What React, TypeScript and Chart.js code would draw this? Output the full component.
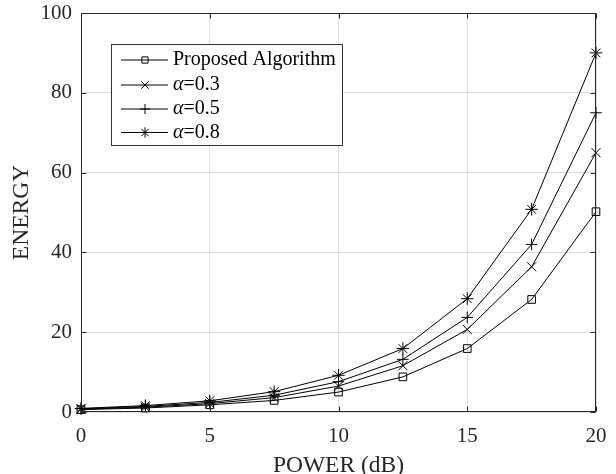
import { useEffect, useRef } from "react";
import { Chart, registerables } from "chart.js";

Chart.register(...registerables);

// ---- data ----
const powerDb = [0, 2.5, 5, 7.5, 10, 12.5, 15, 17.5, 20];
const proposed = [0.6, 1.0, 1.8, 2.9, 5.0, 8.8, 15.9, 28.2, 50.2];
const alpha03 = [0.7, 1.2, 2.1, 3.6, 6.5, 11.6, 20.7, 36.4, 65.0];
const alpha05 = [0.8, 1.4, 2.4, 4.2, 7.6, 13.2, 23.7, 42.0, 75.0];
const alpha08 = [0.9, 1.6, 2.8, 5.1, 9.2, 15.9, 28.4, 50.8, 90.0];
const seriesLabels = ["Proposed Algorithm", "α=0.3", "α=0.5", "α=0.8"];
const xTicks = [0, 5, 10, 15, 20];
const yTicks = [0, 20, 40, 60, 80, 100];

const FONT = "'Liberation Serif', 'Times New Roman', serif";
const AXIS = "#262626";

const markerStyles: any[] = ["rect", "crossRot", "cross", "star"];
const markerRadii = [5.4, 6.4, 5.8, 6.2];
const legendRadii = [4.4, 5.2, 5.0, 5.2];

function drawMarker(ctx: CanvasRenderingContext2D, style: string, r: number, x: number, y: number) {
  ctx.save();
  ctx.strokeStyle = "#000000";
  ctx.lineWidth = 1;
  ctx.beginPath();
  const d = r * Math.SQRT1_2;
  if (style === "rect") {
    ctx.rect(x - d, y - d, 2 * d, 2 * d);
  } else if (style === "crossRot") {
    ctx.moveTo(x - d, y - d);
    ctx.lineTo(x + d, y + d);
    ctx.moveTo(x - d, y + d);
    ctx.lineTo(x + d, y - d);
  } else if (style === "cross") {
    ctx.moveTo(x - r, y);
    ctx.lineTo(x + r, y);
    ctx.moveTo(x, y - r);
    ctx.lineTo(x, y + r);
  } else {
    ctx.moveTo(x - r, y);
    ctx.lineTo(x + r, y);
    ctx.moveTo(x, y - r);
    ctx.lineTo(x, y + r);
    ctx.moveTo(x - d, y - d);
    ctx.lineTo(x + d, y + d);
    ctx.moveTo(x - d, y + d);
    ctx.lineTo(x + d, y - d);
  }
  ctx.stroke();
  ctx.restore();
}

const frameAndLegend = {
  id: "frameAndLegend",
  afterDraw(chart: any) {
    const { ctx, chartArea } = chart;
    const xs = chart.scales.x;
    const ys = chart.scales.y;
    const L = Math.round(chartArea.left) + 0.5;
    const R = Math.round(chartArea.right) - 0.5;
    const T = Math.round(chartArea.top) + 0.5;
    const B = Math.round(chartArea.bottom) - 0.5;
    ctx.save();
    ctx.strokeStyle = AXIS;
    ctx.lineWidth = 1;
    ctx.strokeRect(L, T, R - L, B - T);
    ctx.beginPath();
    const tl = 5;
    xTicks.forEach((v) => {
      const px = Math.round(xs.getPixelForValue(v)) + 0.5;
      ctx.moveTo(px, B);
      ctx.lineTo(px, B - tl);
      ctx.moveTo(px, T);
      ctx.lineTo(px, T + tl);
    });
    yTicks.forEach((v) => {
      const py = Math.round(ys.getPixelForValue(v)) + 0.5;
      ctx.moveTo(L, py);
      ctx.lineTo(L + tl, py);
      ctx.moveTo(R, py);
      ctx.lineTo(R - tl, py);
    });
    ctx.stroke();

    // legend box
    const bx = 111.5, by = 44.5, bw = 231, bh = 101;
    ctx.fillStyle = "#ffffff";
    ctx.fillRect(bx, by, bw, bh);
    ctx.strokeStyle = "#333333";
    ctx.strokeRect(bx, by, bw, bh);
    const rows = [60, 85, 109, 132.5];
    seriesLabels.forEach((label, i) => {
      const y = rows[i];
      ctx.strokeStyle = "#000000";
      ctx.lineWidth = 1;
      ctx.beginPath();
      ctx.moveTo(121, y);
      ctx.lineTo(168, y);
      ctx.stroke();
      drawMarker(ctx, markerStyles[i], legendRadii[i], 145, y);
      ctx.fillStyle = "#000000";
      ctx.textBaseline = "middle";
      ctx.textAlign = "left";
      let x = 173;
      let rest = label;
      if (label.startsWith("α")) {
        ctx.font = `italic 20px ${FONT}`;
        ctx.fillText("α", x, y);
        x += ctx.measureText("α").width;
        rest = label.slice(1);
      }
      ctx.font = `20px ${FONT}`;
      ctx.fillText(rest, x, y);
    });
    ctx.restore();
  },
};

export default function App() {
  const ref = useRef<HTMLCanvasElement | null>(null);

  useEffect(() => {
    if (!ref.current) return;
    const all = [proposed, alpha03, alpha05, alpha08];
    const chart = new Chart(ref.current, {
      type: "line",
      data: {
        datasets: all.map((vals, i) => ({
          label: seriesLabels[i],
          data: powerDb.map((x, j) => ({ x, y: vals[j] })),
          borderColor: "#000000",
          borderWidth: 1,
          backgroundColor: "transparent",
          pointStyle: markerStyles[i],
          pointRadius: markerRadii[i],
          pointBorderColor: "#000000",
          pointBackgroundColor: "transparent",
          pointBorderWidth: 1,
          tension: 0,
          clip: false as any,
        })),
      },
      options: {
        responsive: false,
        animation: false,
        layout: { padding: { top: 13, right: 20, left: 0, bottom: 0 } },
        plugins: {
          legend: { display: false },
          tooltip: { enabled: false },
        },
        scales: {
          x: {
            type: "linear",
            min: 0,
            max: 20,
            afterFit: (s: any) => {
              s.height = 62;
              s.paddingLeft = 0;
              s.paddingRight = 0;
            },
            afterBuildTicks: (s: any) => {
              s.ticks = xTicks.map((v) => ({ value: v }));
            },
            grid: { color: "rgba(0,0,0,0.12)", drawTicks: false, lineWidth: 1 },
            border: { display: false },
            ticks: {
              color: AXIS,
              padding: 12,
              maxRotation: 0,
              autoSkip: false,
              font: { family: FONT, size: 21 },
              callback: (v: any) => String(v),
            },
            title: {
              display: true,
              text: "POWER (dB)",
              color: AXIS,
              font: { family: FONT, size: 23.5, lineHeight: 1 },
              padding: { top: 0, bottom: -3.25 },
            },
          },
          y: {
            type: "linear",
            min: 0,
            max: 100,
            afterFit: (s: any) => {
              s.width = 81;
              s.paddingTop = 0;
              s.paddingBottom = 0;
            },
            afterBuildTicks: (s: any) => {
              s.ticks = yTicks.map((v) => ({ value: v }));
            },
            grid: { color: "rgba(0,0,0,0.12)", drawTicks: false, lineWidth: 1 },
            border: { display: false },
            ticks: {
              color: AXIS,
              padding: 9,
              autoSkip: false,
              font: { family: FONT, size: 21 },
              callback: (v: any) => String(v),
            },
            title: {
              display: true,
              text: "ENERGY",
              color: AXIS,
              font: { family: FONT, size: 23.5, lineHeight: 1 },
              padding: { top: 10.25, bottom: 0 },
            },
          },
        },
      },
      plugins: [frameAndLegend],
    });
    return () => chart.destroy();
  }, []);

  return (
    <div style={{ position: "fixed", left: 0, top: 0, width: 616, height: 474, background: "#fff" }}>
      <canvas ref={ref} width={616} height={474} style={{ width: 616, height: 474, display: "block" }} />
    </div>
  );
}
